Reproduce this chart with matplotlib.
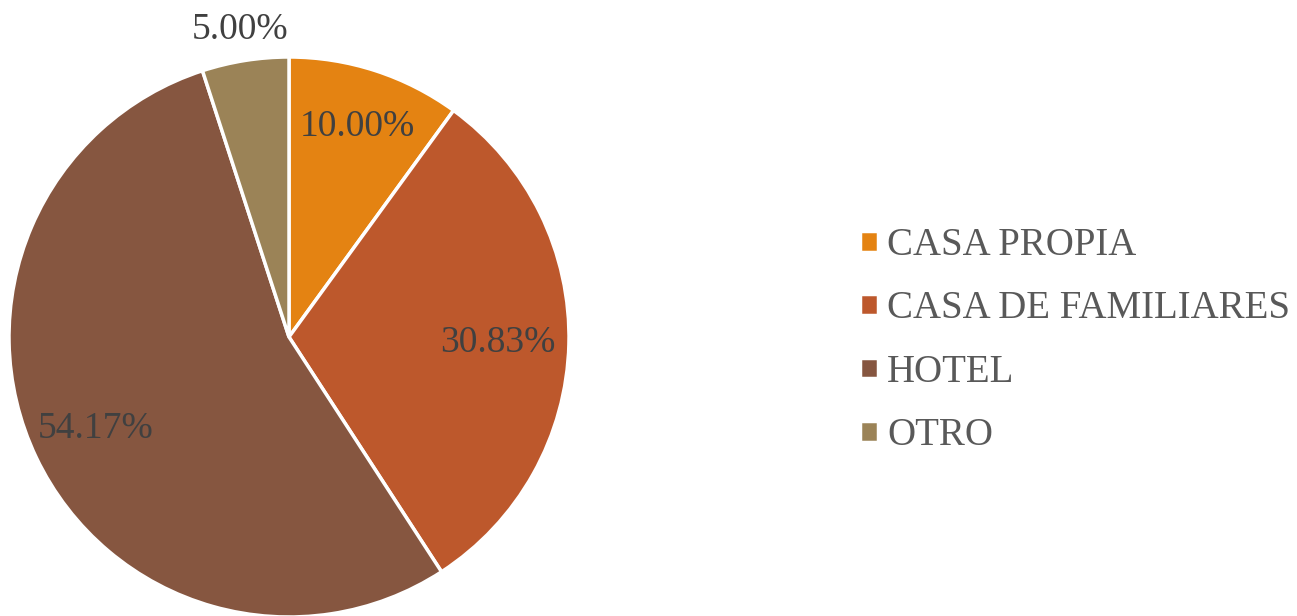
import matplotlib.pyplot as plt
import numpy as np

categorias = ['CASA PROPIA', 'CASA DE FAMILIARES', 'HOTEL', 'OTRO']
valores = [10.00, 30.83, 54.17, 5.00]
etiquetas = ['10.00%', '30.83%', '54.17%', '5.00%']
colores = ['#E48312', '#BD582C', '#865640', '#9B8357']
dist_etiqueta = [0.79, 0.745, 0.765, 1.11]  # distancia radial de cada etiqueta

plt.rcParams['font.family'] = ['Liberation Serif', 'DejaVu Serif']

fig = plt.figure(figsize=(12.97, 6.16), dpi=100)
ax = fig.add_axes([9/1297, -1/616, 560/1297, 560/616])

wedges, _ = ax.pie(valores, colors=colores, startangle=90, counterclock=False,
                   radius=1, wedgeprops=dict(edgecolor='white', linewidth=2.5))
ax.set_xlim(-1, 1); ax.set_ylim(-1, 1)
ax.set_aspect('equal')
ax.axis('off')

# etiquetas de porcentaje en el angulo medio de cada sector
for w, txt, r in zip(wedges, etiquetas, dist_etiqueta):
    ang = np.deg2rad((w.theta1 + w.theta2) / 2)
    ax.text(r*np.cos(ang), r*np.sin(ang), txt, ha='center', va='center',
            fontsize=27, color='#404040', clip_on=False)

leg = fig.legend(wedges, categorias, loc='center left', bbox_to_anchor=(860/1297, 0.447),
                 frameon=False, fontsize=28, labelcolor='#595959', borderpad=0, borderaxespad=0,
                 handlelength=0.45, handleheight=0.45, handletextpad=0.25, labelspacing=0.68)

fig.savefig('out.png', dpi=100)
